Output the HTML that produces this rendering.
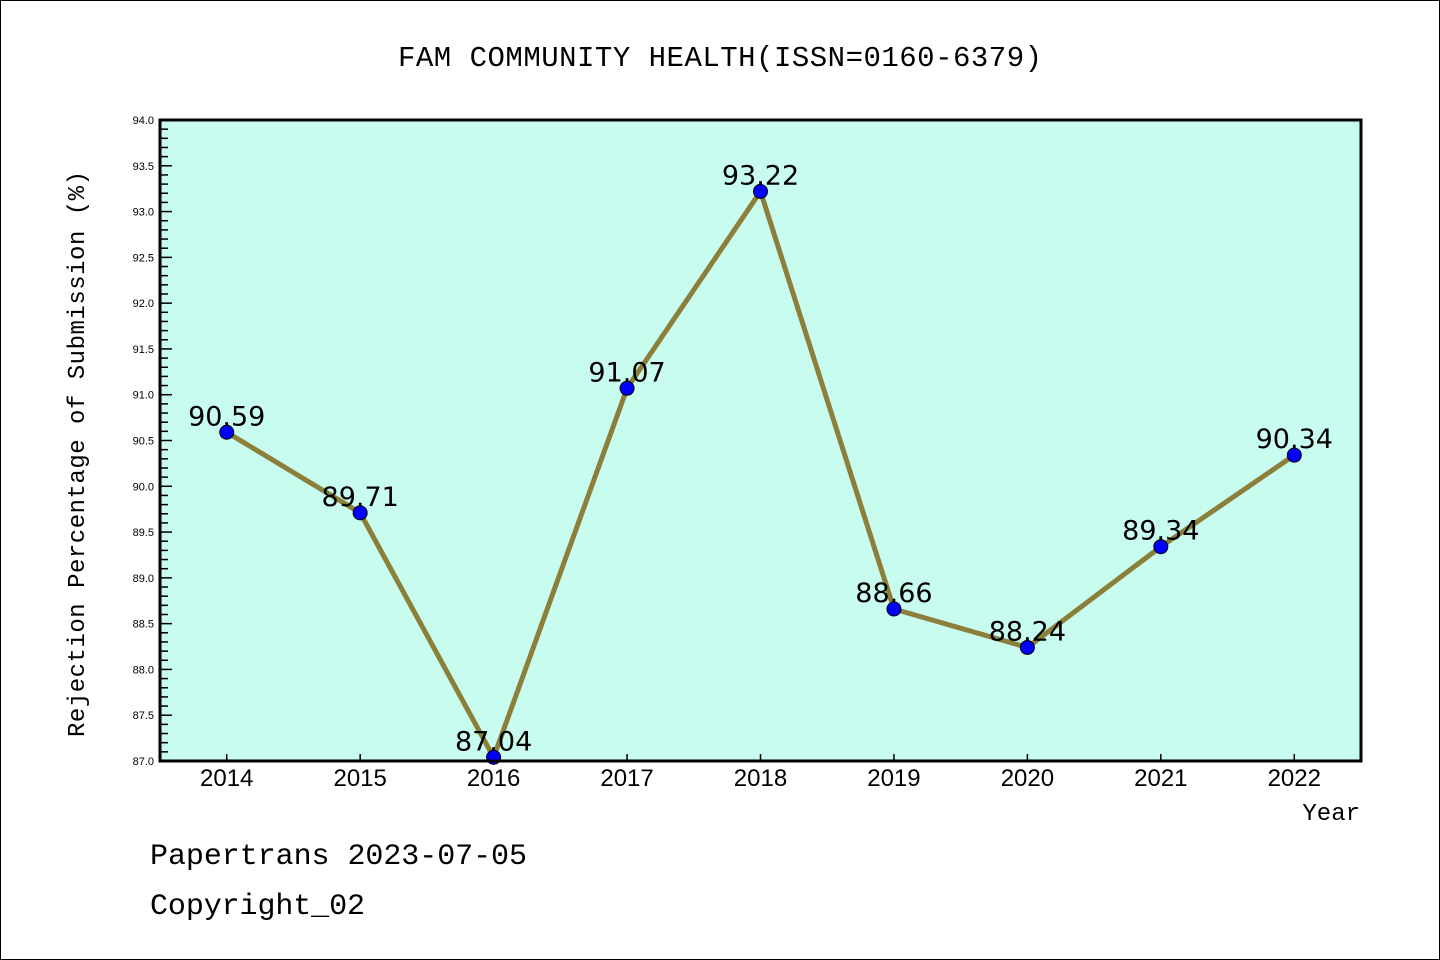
<!DOCTYPE html>
<html><head><meta charset="utf-8"><style>
body{margin:0;background:#fff}
svg{display:block}
.m{font-family:"Liberation Mono","WenQuanYi Zen Hei",monospace}
.s{font-family:"Liberation Sans","DejaVu Sans",sans-serif}
</style></head><body>
<svg id="c" width="1440" height="960" xmlns="http://www.w3.org/2000/svg">
<rect x="0.5" y="0.5" width="1439" height="959" fill="#fff" stroke="#000"/>
<text x="720" y="66" text-anchor="middle" font-size="29" textLength="644" class="m">FAM COMMUNITY HEALTH(ISSN=0160-6379)</text>
<rect x="160" y="120" width="1201" height="641" fill="#c7fcee"/>
<g id="axes"></g>
<g id="marks"></g>
<rect x="160" y="120" width="1201" height="641" fill="none" stroke="#000" stroke-width="3"/>
<text transform="translate(84,454) rotate(-90)" text-anchor="middle" font-size="24" textLength="566" class="m">Rejection Percentage of Submission (%)</text>
<text x="1360" y="820" text-anchor="end" font-size="24" class="m">Year</text>
<text x="150" y="864" font-size="30" textLength="377" class="m">Papertrans 2023-07-05</text>
<text x="150" y="914" font-size="30" textLength="215" class="m">Copyright_02</text>
</svg>
<script>
const years=[2014,2015,2016,2017,2018,2019,2020,2021,2022];
const values=[90.59,89.71,87.04,91.07,93.22,88.66,88.24,89.34,90.34];
const yTicks=[87.0,87.5,88.0,88.5,89.0,89.5,90.0,90.5,91.0,91.5,92.0,92.5,93.0,93.5,94.0];
const NS="http://www.w3.org/2000/svg";
const L=160,R=1361,T=120,B=761;
const x=v=>L+(v-2013.5)/9*(R-L);
const y=v=>B-(v-87)/7*(B-T);
function mk(tag,attrs,parent){const e=document.createElementNS(NS,tag);for(const k in attrs)e.setAttribute(k,attrs[k]);parent.appendChild(e);return e;}
const ax=document.getElementById('axes'),mg=document.getElementById('marks');
for(let i=0;i<=70;i++){const v=87+i*0.1;const major=i%5===0;
 const t=mk('line',{x1:L,x2:L+(major?12:8),y1:y(v),y2:y(v),stroke:'#000','stroke-width':1.5},ax);
 }
yTicks.forEach(v=>{const t=mk('text',{x:L-6,y:y(v)+4,'text-anchor':'end','font-size':11,class:'s'},ax);t.textContent=v.toFixed(1);
 });
years.forEach(yr=>{const t=mk('line',{x1:x(yr),x2:x(yr),y1:B,y2:B-7,stroke:'#000','stroke-width':1.5},ax);
 
 const l=mk('text',{x:x(yr),y:B+25,'text-anchor':'middle','font-size':24,class:'s'},ax);l.textContent=yr;
 });
const pl=mk('polyline',{points:years.map((yr,i)=>x(yr)+','+y(values[i])).join(' '),fill:'none',stroke:'#8b7f3a','stroke-width':5,'stroke-linejoin':'round'},mg);

years.forEach((yr,i)=>{const c=mk('circle',{cx:x(yr),cy:y(values[i]),r:7,fill:'#0000ff',stroke:'#000','stroke-width':1},mg);
 
 const t=mk('text',{x:x(yr),y:y(values[i])-7,'text-anchor':'middle','font-size':27,style:'font-family:"DejaVu Sans","Liberation Sans",sans-serif'},mg);t.textContent=values[i].toFixed(2);
 });
</script>
</body></html>
